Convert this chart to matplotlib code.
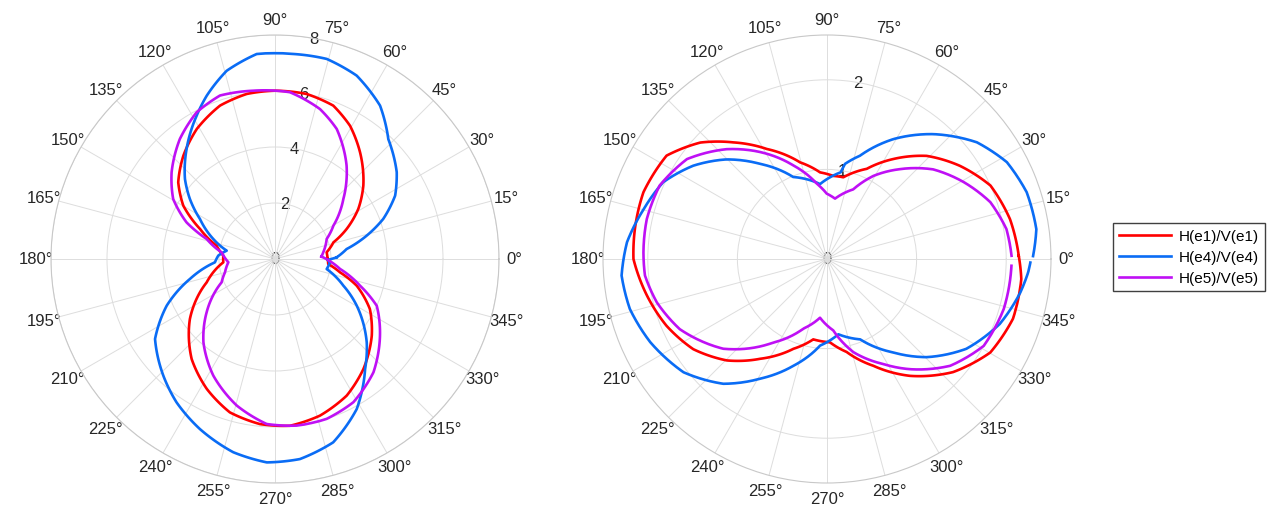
import numpy as np
import matplotlib
matplotlib.use("Agg")
import matplotlib.pyplot as plt

plt.rcParams['font.family'] = ['Liberation Sans', 'DejaVu Sans']

# ---- data (angle in degrees, magnitude) ----
# left panel
L_red_ang = [0, 7.4, 15.9, 22.7, 31, 39.7, 51.4, 60.6, 69.2, 79.1, 90, 99.7, 109.7, 121, 131.6,
             141.6, 149.8, 158.2, 167.1, 176.3, 183.7, 198.9, 215.2, 230.2, 242.3, 253.6, 264.8,
             275.1, 286, 297.7, 308.8, 321.6, 332.2, 341.9, 348.4, 354.6]
L_red_r = [1.88, 1.86, 2.17, 2.77, 3.47, 4.10, 4.87, 5.46, 5.86, 6.00, 6.01, 5.98, 5.82, 5.42, 4.93,
           4.41, 3.79, 2.88, 2.14, 1.85, 1.85, 2.58, 3.72, 4.65, 5.24, 5.71, 5.92,
           5.98, 5.82, 5.51, 5.04, 4.41, 3.83, 3.07, 2.37, 1.91]

L_blue_ang = [1.5, 7.9, 14.3, 20.3, 27.8, 35.5, 46.6, 55.6, 66, 75.5, 85.4, 95.1, 104.4, 112.7,
              118.7, 128.8, 138.4, 144.8, 151.9, 162, 170.2, 176.6, 183.2, 193.2, 203.3, 213.7,
              226.3, 235.5, 246.2, 257.8, 267.7, 277.1, 287.6, 298.6, 309.3, 317.7, 330.3, 338.7,
              349, 356.5, 359]
L_blue_r = [2.20, 2.58, 3.38, 4.12, 4.85, 5.34, 5.89, 6.64, 7.17, 7.38, 7.35, 7.35, 6.94, 6.32,
            5.83, 5.04, 4.30, 3.72, 3.04, 2.32, 1.75, 2.03, 2.15, 3.12, 4.21, 5.15,
            5.77, 6.21, 6.64, 7.06, 7.27, 7.20, 6.87, 6.10, 5.08, 4.43, 3.36, 2.62,
            1.88, 1.97, 1.88]

L_purple_ang = [3, 7.9, 21.2, 29.7, 41.3, 52.5, 64.6, 73.3, 84.9, 97.3, 108.6, 118.1, 128.4, 140,
                149.5, 157.5, 163.7, 172.9, 184, 195, 203.6, 218, 229.3, 242.1, 255.4, 267.1,
                277.4, 287.9, 298.7, 311, 323.9, 335.3, 342.6, 351.3, 356.6]
L_purple_r = [1.66, 1.74, 1.98, 2.40, 3.25, 4.20, 5.14, 5.59, 5.98, 6.06, 6.16, 5.94, 5.47, 4.82,
              4.22, 3.42, 2.54, 1.92, 1.67, 1.85, 2.08, 3.10, 3.92, 4.71, 5.41, 5.90,
              6.00, 6.00, 5.83, 5.36, 4.64, 4.00, 3.18, 2.35, 2.03]

# right panel
R_red_ang = [1, 12.3, 24.2, 35.1, 46, 56.4, 66.2, 78.7, 85.7, 94.6, 105.6, 118.7, 128.8, 137.4,
             147.2, 160, 171.1, 180, 191.5, 202.6, 214, 225.4, 236.2, 249.5, 260.3, 272, 281.9,
             293.5, 305.4, 318.1, 330.2, 342.2, 354.1]
R_red_r = [2.14, 2.09, 2.00, 1.81, 1.60, 1.34, 1.10, 0.93, 0.93, 0.97, 1.12, 1.40, 1.67, 1.92,
           2.13, 2.18, 2.17, 2.16, 2.05, 1.94, 1.80, 1.59, 1.34, 1.07, 0.91, 0.93, 1.06,
           1.30, 1.60, 1.89, 2.10, 2.18, 2.18]

R_blue_ang = [0.8, 8.1, 18.5, 28.3, 37.9, 49.6, 61, 72.3, 79.3, 81, 95.3, 112.4, 125.2, 135.3,
              145.1, 154.9, 164.8, 175.2, 184.6, 194.2, 205.2, 218.3, 230.3, 240.8, 252.5, 265.4,
              278.6, 292.4, 305.4, 315.4, 327.2, 339.4, 350.2, 356.2, 359]
R_blue_r = [2.30, 2.36, 2.35, 2.28, 2.12, 1.83, 1.53, 1.21, 1.08, 0.98, 0.84, 0.99, 1.30, 1.58,
            1.82, 2.02, 2.12, 2.24, 2.30, 2.27, 2.18, 2.04, 1.81, 1.53, 1.25, 0.97,
            0.85, 0.97, 1.28, 1.56, 1.85, 2.06, 2.19, 2.25, 2.27]

R_purple_ang = [1, 9.5, 19.2, 29.4, 40.2, 51, 60.9, 69.4, 82.4, 90.3, 97.8, 109.8, 122.1, 132.4,
                144.5, 156.3, 167.5, 177.9, 185.2, 194.3, 205.5, 220.9, 237.2, 251.3, 263.2, 275,
                285.8, 298.2, 307, 319.1, 331, 344.2, 357.9]
R_purple_r = [2.06, 2.03, 1.93, 1.75, 1.55, 1.29, 1.06, 0.83, 0.68, 0.73, 0.85, 1.11, 1.41, 1.66,
              1.92, 2.04, 2.06, 2.05, 2.04, 1.96, 1.82, 1.53, 1.11, 0.82, 0.66, 0.80,
              1.08, 1.33, 1.54, 1.82, 2.00, 2.05, 2.06]

labels = ['H(e1)/V(e1)', 'H(e4)/V(e4)', 'H(e5)/V(e5)']
colors = ['#ff0000', '#0a6cf5', '#bf10f5']

L_rticks = [0, 2, 4, 6, 8]
L_rmax = 8
R_rticks = [0, 1, 2]
R_rmax = 2.5

theta_ticks = list(range(0, 360, 15))
theta_labels = [f'{t}°' for t in theta_ticks]


def closed(a, r):
    # repeat the first point one turn later so the closing segment stays short
    return np.deg2rad(a + [a[0] + 360]), r + r[:1]


def opened(a, r):
    return np.deg2rad(a), r


W, H = 1267, 510
fig = plt.figure(figsize=(W / 100, H / 100), dpi=100)

R = 224
panels = [
    (275, 260, L_rticks, L_rmax,
     [closed(L_red_ang, L_red_r), closed(L_blue_ang, L_blue_r), closed(L_purple_ang, L_purple_r)]),
    (827, 260, R_rticks, R_rmax,
     [closed(R_red_ang, R_red_r), opened(R_blue_ang, R_blue_r), opened(R_purple_ang, R_purple_r)]),
]

lines = []
for cx, cy, rticks, rmax, curves in panels:
    ax = fig.add_axes([(cx - R) / W, (H - cy - R) / H, 2 * R / W, 2 * R / H], projection='polar')
    ax.set_ylim(0, rmax)
    ax.set_yticks([t for t in rticks if t > 0])
    ax.set_yticklabels([])
    ax.set_thetagrids(theta_ticks, theta_labels)
    ax.tick_params(axis='x', labelsize=12, colors='#262626', pad=0.5)
    ax.grid(True, color='#dddddd', lw=0.7)
    ax.spines['polar'].set_color('#c8c8c8')
    ax.spines['polar'].set_linewidth(0.8)
    for t in rticks:
        ax.text(np.deg2rad(80), t, str(t), ha='center', va='center',
                fontsize=12, color='#262626', zorder=1)
    lines = []
    for (th, r), c in zip(curves, colors):
        ln, = ax.plot(th, r, color=c, lw=1.9, zorder=3, solid_joinstyle='round')
        # follow the polar grid between read points instead of straight chords
        ln.get_path()._interpolation_steps = 30
        lines.append(ln)

fig.legend(lines, labels, loc='upper left', bbox_to_anchor=(1113 / W, 1 - 224 / H),
           borderaxespad=0, fontsize=11, frameon=True, fancybox=False, framealpha=1,
           edgecolor='#404040', handlelength=3.4, labelspacing=0.45, handletextpad=0.5,
           borderpad=0.4)

fig.savefig('out.png', dpi=100)
